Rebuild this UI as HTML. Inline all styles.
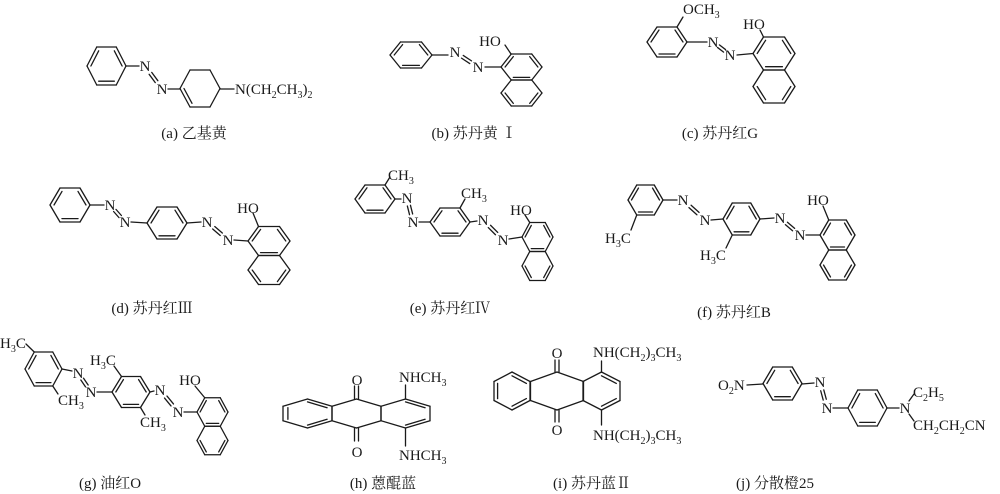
<!DOCTYPE html>
<html><head><meta charset="utf-8">
<style>
html,body{margin:0;padding:0;background:#fff;}
svg{display:block;}
text{font-family:"Liberation Serif","Noto Serif CJK SC","Noto Sans CJK SC",serif;fill:#1a1a1a;font-size:15px;}
.c{font-size:15px;}
.s{font-size:10px;}
</style></head>
<body>
<svg id="s" width="1000" height="494" viewBox="0 0 1000 494" xmlns="http://www.w3.org/2000/svg">
<g id="b" stroke="#1a1a1a" stroke-width="1.3" fill="none" stroke-linecap="round"></g>

<!-- (a) -->
<text x="145" y="71" text-anchor="middle">N</text>
<text x="162" y="94" text-anchor="middle">N</text>
<text x="235" y="94">N(CH<tspan class="s" dy="4">2</tspan><tspan dy="-4">CH</tspan><tspan class="s" dy="4">3</tspan><tspan dy="-4">)</tspan><tspan class="s" dy="4">2</tspan></text>
<text class="c" x="194" y="138" text-anchor="middle">(a) 乙基黄</text>

<!-- (b) -->
<text x="455" y="57" text-anchor="middle">N</text>
<text x="478" y="72" text-anchor="middle">N</text>
<text x="490" y="46" text-anchor="middle">HO</text>
<text class="c" x="474" y="138" text-anchor="middle">(b) 苏丹黄 Ⅰ</text>

<!-- (c) -->
<text x="683" y="14">OCH<tspan class="s" dy="4">3</tspan></text>
<text x="713" y="47" text-anchor="middle">N</text>
<text x="730" y="60" text-anchor="middle">N</text>
<text x="754" y="29" text-anchor="middle">HO</text>
<text class="c" x="720" y="138" text-anchor="middle">(c) 苏丹红G</text>

<!-- (d) -->
<text x="110" y="210" text-anchor="middle">N</text>
<text x="125" y="227" text-anchor="middle">N</text>
<text x="207" y="227" text-anchor="middle">N</text>
<text x="228" y="245" text-anchor="middle">N</text>
<text x="248" y="213" text-anchor="middle">HO</text>
<text class="c" x="152" y="313" text-anchor="middle">(d) 苏丹红Ⅲ</text>

<!-- (e) -->
<text x="388" y="180">CH<tspan class="s" dy="4">3</tspan></text>
<text x="407" y="203" text-anchor="middle">N</text>
<text x="413" y="227" text-anchor="middle">N</text>
<text x="461" y="198">CH<tspan class="s" dy="4">3</tspan></text>
<text x="483" y="225" text-anchor="middle">N</text>
<text x="503" y="245" text-anchor="middle">N</text>
<text x="521" y="215" text-anchor="middle">HO</text>
<text class="c" x="450" y="313" text-anchor="middle">(e) 苏丹红Ⅳ</text>

<!-- (f) -->
<text x="605" y="243">H<tspan class="s" dy="4">3</tspan><tspan dy="-4">C</tspan></text>
<text x="683" y="205" text-anchor="middle">N</text>
<text x="705" y="225" text-anchor="middle">N</text>
<text x="700" y="260">H<tspan class="s" dy="4">3</tspan><tspan dy="-4">C</tspan></text>
<text x="780" y="223" text-anchor="middle">N</text>
<text x="800" y="240" text-anchor="middle">N</text>
<text x="818" y="205" text-anchor="middle">HO</text>
<text class="c" x="734" y="317" text-anchor="middle">(f) 苏丹红B</text>

<!-- (g) -->
<text x="0" y="348">H<tspan class="s" dy="4">3</tspan><tspan dy="-4">C</tspan></text>
<text x="58" y="405">CH<tspan class="s" dy="4">3</tspan></text>
<text x="78" y="378" text-anchor="middle">N</text>
<text x="91" y="397" text-anchor="middle">N</text>
<text x="90" y="365">H<tspan class="s" dy="4">3</tspan><tspan dy="-4">C</tspan></text>
<text x="140" y="427">CH<tspan class="s" dy="4">3</tspan></text>
<text x="160" y="395" text-anchor="middle">N</text>
<text x="178" y="417" text-anchor="middle">N</text>
<text x="190" y="385" text-anchor="middle">HO</text>
<text class="c" x="110" y="488" text-anchor="middle">(g) 油红O</text>

<!-- (h) -->
<text x="357" y="385" text-anchor="middle">O</text>
<text x="357" y="457" text-anchor="middle">O</text>
<text x="399" y="382">NHCH<tspan class="s" dy="4">3</tspan></text>
<text x="399" y="460">NHCH<tspan class="s" dy="4">3</tspan></text>
<text class="c" x="383" y="488" text-anchor="middle">(h) 蒽醌蓝</text>

<!-- (i) -->
<text x="557" y="358" text-anchor="middle">O</text>
<text x="557" y="435" text-anchor="middle">O</text>
<text x="593" y="357">NH(CH<tspan class="s" dy="4">2</tspan><tspan dy="-4">)</tspan><tspan class="s" dy="4">3</tspan><tspan dy="-4">CH</tspan><tspan class="s" dy="4">3</tspan></text>
<text x="593" y="440">NH(CH<tspan class="s" dy="4">2</tspan><tspan dy="-4">)</tspan><tspan class="s" dy="4">3</tspan><tspan dy="-4">CH</tspan><tspan class="s" dy="4">3</tspan></text>
<text class="c" x="592" y="488" text-anchor="middle">(i) 苏丹蓝Ⅱ</text>

<!-- (j) -->
<text x="718" y="390">O<tspan class="s" dy="4">2</tspan><tspan dy="-4">N</tspan></text>
<text x="820" y="387" text-anchor="middle">N</text>
<text x="827" y="413" text-anchor="middle">N</text>
<text x="905" y="413" text-anchor="middle">N</text>
<text x="913" y="397">C<tspan class="s" dy="4">2</tspan><tspan dy="-4">H</tspan><tspan class="s" dy="4">5</tspan></text>
<text x="913" y="430">CH<tspan class="s" dy="4">2</tspan><tspan dy="-4">CH</tspan><tspan class="s" dy="4">2</tspan><tspan dy="-4">CN</tspan></text>
<text class="c" x="775" y="488" text-anchor="middle">(j) 分散橙25</text>
</svg>
<script>
var G=document.getElementById('b');
function L(x1,y1,x2,y2){var l=document.createElementNS('http://www.w3.org/2000/svg','line');
l.setAttribute('x1',x1);l.setAttribute('y1',y1);l.setAttribute('x2',x2);l.setAttribute('y2',y2);G.appendChild(l);}
function hex(cx,cy,rx,ry,p,d){var v;
if(!p)v=[[cx+rx,cy],[cx+rx/2,cy+ry],[cx-rx/2,cy+ry],[cx-rx,cy],[cx-rx/2,cy-ry],[cx+rx/2,cy-ry]];
else v=[[cx,cy-ry],[cx+rx,cy-ry/2],[cx+rx,cy+ry/2],[cx,cy+ry],[cx-rx,cy+ry/2],[cx-rx,cy-ry/2]];
for(var i=0;i<6;i++){var a=v[i],b=v[(i+1)%6];L(a[0],a[1],b[0],b[1]);}
(d||[]).forEach(function(i){var a=v[i],b=v[(i+1)%6],k=0.2;
L(a[0]+(cx-a[0])*k,a[1]+(cy-a[1])*k,b[0]+(cx-b[0])*k,b[1]+(cy-b[1])*k);});}
function azo(x1,y1,x2,y2){var dx=x2-x1,dy=y2-y1,len=Math.sqrt(dx*dx+dy*dy),nx=-dy/len*1.6,ny=dx/len*1.6;
var ax=x1+dx*0.32,ay=y1+dy*0.32,bx=x1+dx*0.68,by=y1+dy*0.68;
L(ax+nx,ay+ny,bx+nx,by+ny);L(ax-nx,ay-ny,bx-nx,by-ny);}
// (a)
hex(106.5,66,19.5,19,0,[1,3,5]);L(126,66,139,66);azo(145,66,162,89);L(168,89,180,89);
hex(200,88.5,20,18.5,0,[2]);L(220,89,234,89);
// (b)
hex(411,55,21,13,0,[1,3,5]);L(432,55,448,55);azo(455,52,478,67);L(485,67,501,67);
hex(521.5,67,20.5,13,0,[1,3,5]);hex(521.5,93,20.5,13,0,[0,2]);L(505,45,511,54);
// (c)
hex(667,42,20,15,0,[1,3,5]);L(677,27,683,17);L(687,42,707,42);azo(713,42,730,55);L(737,55,753,53.5);
hex(774,53.5,21,16.5,0,[1,3,5]);hex(774,86.5,21,16.5,0,[0,2]);L(760,30,763.5,37);
// (d)
hex(70,205,20,17,0,[1,3,5]);L(90,205,104,205);azo(110,205,125,222);L(131,222,147,223);
hex(167,223,20,16,0,[1,3,5]);L(187,223,201,222);azo(207,222,228,240);L(234,240,248,241);
hex(269,241,21,14.5,0,[1,3,5]);hex(269,270,21,14.5,0,[0,2]);L(253,213,258.5,226.5);
// (e)
hex(375,199,20,14,0,[1,3,5]);L(385,185,390,177);L(395,199,401,199);azo(407,198,413,222);L(419,222,430,222);
hex(450,222,20,14,0,[1,3,5]);L(460,208,465,199);L(470,222,477,221);azo(483,220,503,240);L(509,239,522,237);
hex(537.5,237,15.5,14.5,0,[1,3,5]);hex(537.5,266,15.5,14.5,0,[0,2]);L(525,215,529.75,222.5);
// (f)
hex(645.5,200,17.5,15,0,[1,3,5]);L(636.75,215,631,230);L(663,200,677,200);azo(683,200,705,220);L(711,220,723,219);
hex(741.5,219,18.5,16,0,[1,3,5]);L(732.25,235,726,248);L(760,219,774,218);azo(780,218,800,235);L(806,235,820,235);
hex(837.5,235,17.5,15,0,[1,3,5]);hex(837.5,265,17.5,15,0,[0,2]);L(823,206,828.75,220);
// (g)
hex(43.5,369,18.5,17,0,[1,3,5]);L(26,344,34.25,352);L(52.75,386,58,394);L(62,369,72,371);azo(78,373,91,392);L(97,392,112,392);
hex(131,392,19,15.5,0,[1,3,5]);L(114,366,121.5,376.5);L(140.5,407.5,145,415);L(150,392,154,391);azo(160,390,178,412);L(184,412,197,412);
hex(212.5,412,15.5,14.25,0,[1,3,5]);hex(212.5,440.5,15.5,14.25,0,[0,2]);L(195,386,204.75,397.75);
// (h)
hex(307.5,413.5,24.5,14.5,1,[0,2,4]);hex(356.5,413.5,24.5,14.5,1,[]);hex(405.5,413.5,24.5,14.5,1,[0,2]);
L(354.5,399,354.5,386);L(358.5,399,358.5,386);L(354.5,428,354.5,441);L(358.5,428,358.5,441);
L(405.5,399,405.5,385);L(405.5,428,405.5,446);
// (i)
hex(512,391,18,19,1,[0,2,4]);hex(557,391,26.5,19,1,[]);hex(601.5,391,18.5,19,1,[0,2]);
L(555,372,555,360);L(559,372,559,360);L(555,410,555,422);L(559,410,559,422);
L(601.5,372,601.5,361);L(601.5,410,601.5,425);
// (j)
L(747,385,763,384);hex(782.5,383.5,19.5,16.5,0,[1,3,5]);L(802,384,814,383);azo(820,382,827,408);L(833,408,848,408);
hex(867.5,408,19.5,18,0,[1,3,5]);L(887,408,899,408);L(909,401,914,394);L(909,414,914,421);
</script>
</body></html>
